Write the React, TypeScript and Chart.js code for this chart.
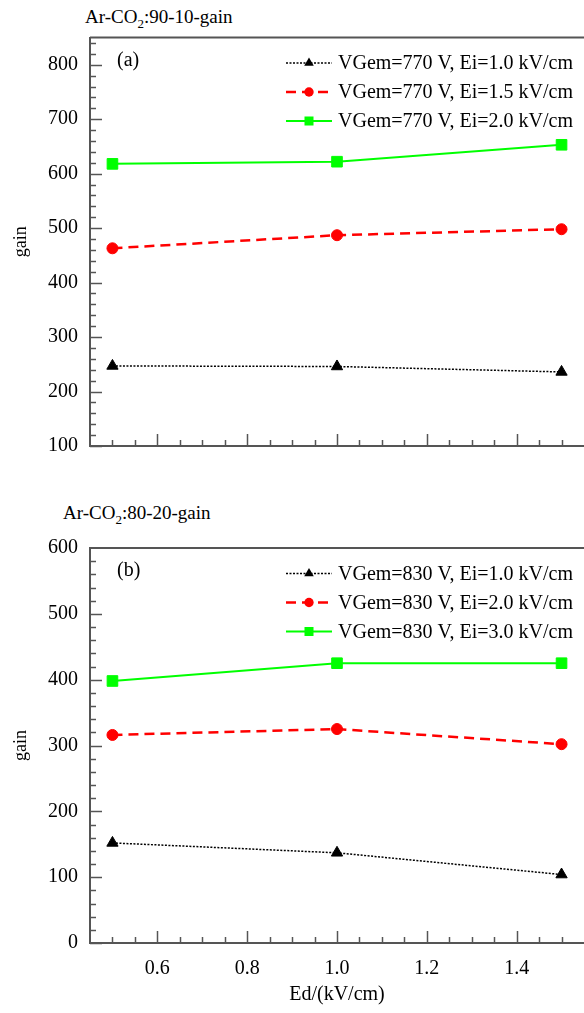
import React, { useEffect, useRef } from "react";
import { Chart, registerables } from "chart.js";

Chart.register(...registerables);

const FONT = "'Liberation Serif', 'Times New Roman', serif";
const AXIS_COLOR = "#555555";

// shared x values (Ed, kV/cm) and axis ticks
const edValues = [0.5, 1.0, 1.5];
const xMajorTicks = [0.6, 0.8, 1.0, 1.2, 1.4];
const xMin = 0.45;
const xMax = 1.55;

// panel (a): Ar-CO2 90-10
const labelsA = [
  "VGem=770 V, Ei=1.0 kV/cm",
  "VGem=770 V, Ei=1.5 kV/cm",
  "VGem=770 V, Ei=2.0 kV/cm",
];
const gainA_Ei10 = [247, 246, 236];
const gainA_Ei15 = [463, 487, 498];
const gainA_Ei20 = [618, 622, 653];
const yTicksA = [100, 200, 300, 400, 500, 600, 700, 800];
const yMinA = 100;
const yMaxA = 850;

// panel (b): Ar-CO2 80-20
const labelsB = [
  "VGem=830 V, Ei=1.0 kV/cm",
  "VGem=830 V, Ei=2.0 kV/cm",
  "VGem=830 V, Ei=3.0 kV/cm",
];
const gainB_Ei10 = [152, 137, 104];
const gainB_Ei20 = [316, 325, 302];
const gainB_Ei30 = [398, 425, 425];
const yTicksB = [0, 100, 200, 300, 400, 500, 600];
const yMinB = 0;
const yMaxB = 600;

type SeriesStyle = {
  color: string;
  width: number;
  dash: number[];
  marker: "triangle" | "circle" | "rect";
  radius: number;
};

const seriesStyles: SeriesStyle[] = [
  { color: "#000000", width: 1.5, dash: [2, 1.5], marker: "triangle", radius: 6.5 },
  { color: "#ff0000", width: 2.5, dash: [10, 6], marker: "circle", radius: 5.5 },
  { color: "#00ff00", width: 2, dash: [], marker: "rect", radius: 7.5 },
];

function drawMarker(ctx: CanvasRenderingContext2D, style: SeriesStyle, x: number, y: number, r: number) {
  ctx.beginPath();
  if (style.marker === "triangle") {
    const a = (2 * Math.PI) / 3;
    ctx.moveTo(x, y - r);
    ctx.lineTo(x + Math.sin(a) * r, y - Math.cos(a) * r);
    ctx.lineTo(x + Math.sin(2 * a) * r, y - Math.cos(2 * a) * r);
    ctx.closePath();
  } else if (style.marker === "circle") {
    ctx.arc(x, y, r, 0, Math.PI * 2);
  } else {
    const s = Math.SQRT1_2 * r;
    ctx.rect(x - s, y - s, 2 * s, 2 * s);
  }
  ctx.fillStyle = style.color;
  ctx.fill();
}

const decorPlugin = {
  id: "panelDecor",
  afterDraw(chart: any, _args: any, opts: any) {
    const { ctx, chartArea } = chart;
    const xs = chart.scales.x;
    const ys = chart.scales.y;
    ctx.save();
    ctx.strokeStyle = AXIS_COLOR;
    ctx.lineWidth = 2;
    // top frame line
    ctx.beginPath();
    ctx.moveTo(chartArea.left, chartArea.top);
    ctx.lineTo(chartArea.right, chartArea.top);
    ctx.stroke();

    // inward x ticks: minor every 0.05
    ctx.lineWidth = 1.5;
    for (let i = 10; i <= 30; i++) {
      const v = i * 0.05;
      const major = xMajorTicks.some((m) => Math.abs(m - v) < 1e-6);
      const px = Math.round(xs.getPixelForValue(v)) + 0.5;
      ctx.beginPath();
      ctx.moveTo(px, chartArea.bottom);
      ctx.lineTo(px, chartArea.bottom - (major ? 12 : 6));
      ctx.stroke();
    }
    // inward y ticks: minor every 20
    const yMajor: number[] = opts.yMajor;
    for (let v = opts.yMin; v < opts.yMax; v += 20) {
      const major = yMajor.includes(v);
      const py = Math.round(ys.getPixelForValue(v)) + 0.5;
      ctx.beginPath();
      ctx.moveTo(chartArea.left, py);
      ctx.lineTo(chartArea.left + (major ? 12 : 6), py);
      ctx.stroke();
    }

    // panel label
    ctx.fillStyle = "#000";
    ctx.font = `20px ${FONT}`;
    ctx.textBaseline = "middle";
    ctx.textAlign = "left";
    ctx.fillText(opts.panelLabel, chartArea.left + 27, chartArea.top + 23);

    // legend
    const textLeft = chartArea.left + 248;
    chart.data.datasets.forEach((ds: any, i: number) => {
      const st = seriesStyles[i];
      const cy = chartArea.top + 25.5 + i * 29;
      ctx.save();
      ctx.strokeStyle = st.color;
      ctx.lineWidth = st.width;
      ctx.setLineDash(st.dash);
      ctx.beginPath();
      ctx.moveTo(textLeft - 52, cy);
      ctx.lineTo(textLeft - 6, cy);
      ctx.stroke();
      ctx.restore();
      drawMarker(ctx, st, textLeft - 29, cy, st.radius * 0.85);
      ctx.fillStyle = "#000";
      ctx.font = `20px ${FONT}`;
      ctx.textBaseline = "middle";
      ctx.fillText(ds.label, textLeft, cy + 1);
    });
    ctx.restore();
  },
};

type PanelProps = {
  top: number;
  height: number;
  padTop: number;
  xAxisHeight: number;
  showXLabels: boolean;
  yMin: number;
  yMax: number;
  yTicks: number[];
  series: number[][];
  labels: string[];
  panelLabel: string;
};

function Panel(p: PanelProps) {
  const ref = useRef<HTMLCanvasElement>(null);
  useEffect(() => {
    const chart = new Chart(ref.current as HTMLCanvasElement, {
      type: "line",
      data: {
        datasets: p.series.map((vals, i) => ({
          label: p.labels[i],
          data: edValues.map((x, j) => ({ x, y: vals[j] })),
          borderColor: seriesStyles[i].color,
          backgroundColor: seriesStyles[i].color,
          borderWidth: seriesStyles[i].width,
          borderDash: seriesStyles[i].dash,
          pointStyle: seriesStyles[i].marker,
          pointRadius: seriesStyles[i].radius,
          pointBackgroundColor: seriesStyles[i].color,
          pointBorderColor: seriesStyles[i].color,
          pointBorderWidth: 1,
          tension: 0,
          fill: false,
        })),
      },
      options: {
        responsive: false,
        animation: false,
        devicePixelRatio: 1,
        layout: { autoPadding: false, padding: { top: p.padTop, left: 0, right: 0, bottom: 0 } },
        plugins: {
          legend: { display: false },
          tooltip: { enabled: false },
          panelDecor: { yMin: p.yMin, yMax: p.yMax, yMajor: p.yTicks, panelLabel: p.panelLabel },
        } as any,
        scales: {
          x: {
            type: "linear",
            min: xMin,
            max: xMax,
            grid: { display: false, drawTicks: false },
            border: { display: true, color: AXIS_COLOR, width: 2 },
            ticks: {
              display: p.showXLabels,
              padding: 14,
              color: "#000",
              font: { family: FONT, size: 20 },
              callback: (v: any) => Number(v).toFixed(1),
            },
            afterBuildTicks: (s: any) => {
              s.ticks = xMajorTicks.map((v) => ({ value: v }));
            },
            afterFit: (s: any) => {
              s.height = p.xAxisHeight;
            },
            title: {
              display: p.showXLabels,
              text: "Ed/(kV/cm)",
              color: "#000",
              font: { family: FONT, size: 20 },
              padding: { top: 0, bottom: 6 },
            },
          },
          y: {
            type: "linear",
            min: p.yMin,
            max: p.yMax,
            grid: { display: false, drawTicks: false },
            border: { display: true, color: AXIS_COLOR, width: 2 },
            ticks: {
              padding: 12,
              color: "#000",
              font: { family: FONT, size: 20 },
              callback: (v: any) => String(v),
            },
            afterBuildTicks: (s: any) => {
              s.ticks = p.yTicks.map((v) => ({ value: v }));
            },
            afterFit: (s: any) => {
              s.width = 90;
            },
            title: {
              display: true,
              text: "gain",
              color: "#000",
              font: { family: FONT, size: 18 },
              padding: { top: 10, bottom: 0 },
            },
          },
        },
      } as any,
      plugins: [decorPlugin as any],
    });
    return () => chart.destroy();
  }, []);
  return (
    <canvas
      ref={ref}
      width={584}
      height={p.height}
      style={{ position: "absolute", left: 0, top: p.top, width: 584, height: p.height }}
    />
  );
}

const titleStyle: React.CSSProperties = {
  position: "absolute",
  fontFamily: FONT,
  fontSize: 19,
  lineHeight: "19px",
  color: "#000",
  whiteSpace: "nowrap",
};
const subStyle: React.CSSProperties = {
  fontSize: 13,
  position: "relative",
  top: 5,
};

export default function App() {
  return (
    <div
      style={{
        position: "absolute",
        left: 0,
        top: 0,
        width: 584,
        height: 1013,
        background: "#fff",
        overflow: "hidden",
      }}
    >
      <div style={{ ...titleStyle, left: 85, top: 7 }}>
        Ar-CO<span style={subStyle}>2</span>:90-10-gain
      </div>
      <Panel
        top={0}
        height={470}
        padTop={37.5}
        xAxisHeight={13}
        showXLabels={false}
        yMin={yMinA}
        yMax={yMaxA}
        yTicks={yTicksA}
        series={[gainA_Ei10, gainA_Ei15, gainA_Ei20]}
        labels={labelsA}
        panelLabel="(a)"
      />
      <div style={{ ...titleStyle, left: 63, top: 503 }}>
        Ar-CO<span style={subStyle}>2</span>:80-20-gain
      </div>
      <Panel
        top={490}
        height={523}
        padTop={58}
        xAxisHeight={70}
        showXLabels={true}
        yMin={yMinB}
        yMax={yMaxB}
        yTicks={yTicksB}
        series={[gainB_Ei10, gainB_Ei20, gainB_Ei30]}
        labels={labelsB}
        panelLabel="(b)"
      />
    </div>
  );
}
